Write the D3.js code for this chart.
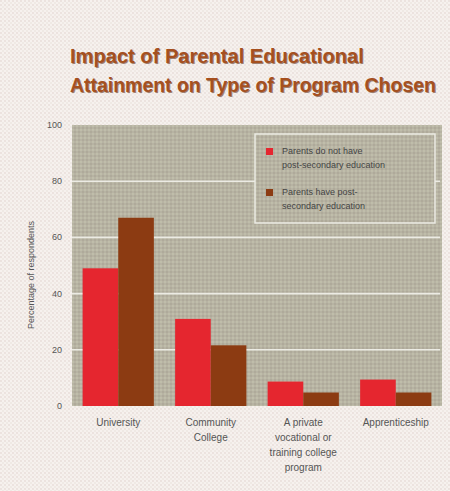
<!DOCTYPE html>
<html>
<head>
<meta charset="utf-8">
<script src="https://cdn.jsdelivr.net/npm/d3@7"></script>
<style>
  body { margin: 0; background: #f3ece8; }
  text { font-family: "Liberation Sans", Arial, sans-serif; }
</style>
</head>
<body>
<div id="chart"></div>
<script>
// ---- data ----
var categories = ['University', 'Community College', 'A private vocational or training college program', 'Apprenticeship'];
var catLines = [['University'], ['Community', 'College'], ['A private', 'vocational or', 'training college', 'program'], ['Apprenticeship']];
var noPostSec = [49, 31, 8.7, 9.4];
var havePostSec = [67, 21.6, 4.8, 4.8];
var seriesNames = ['Parents do not have post-secondary education', 'Parents have post-secondary education'];
var legendLines = [['Parents do not have', 'post-secondary education'], ['Parents have post-', 'secondary education']];
var yTicks = [0, 20, 40, 60, 80, 100];

var colors = ['#e5262f', '#8c3b12'];

var W = 450, H = 491;
var margin = {top: 125, right: 8, bottom: 85, left: 72};
var width = W - margin.left - margin.right,
    height = H - margin.top - margin.bottom;

var svg = d3.select('#chart').append('svg')
    .attr('width', W)
    .attr('height', H);

// dotted textures
var defs = svg.append('defs');
var pg = defs.append('pattern').attr('id', 'pageTex')
    .attr('width', 4).attr('height', 4).attr('patternUnits', 'userSpaceOnUse');
pg.append('rect').attr('width', 4).attr('height', 4).attr('fill', '#f6f1ee');
pg.append('circle').attr('cx', 1).attr('cy', 1).attr('r', 0.9).attr('fill', '#e8dcd8');
pg.append('circle').attr('cx', 3).attr('cy', 3).attr('r', 0.9).attr('fill', '#ece6e0');

var pp = defs.append('pattern').attr('id', 'plotTex')
    .attr('width', 4).attr('height', 4).attr('patternUnits', 'userSpaceOnUse');
pp.append('rect').attr('width', 4).attr('height', 4).attr('fill', '#b7b3a3');
pp.append('circle').attr('cx', 1).attr('cy', 1).attr('r', 0.9).attr('fill', '#c4c3ae');
pp.append('circle').attr('cx', 3).attr('cy', 3).attr('r', 0.9).attr('fill', '#aba696');

svg.append('rect').attr('width', W).attr('height', H).attr('fill', 'url(#pageTex)');

// title: squeeze each line horizontally to the reference width
var title = svg.append('g').attr('font-weight', 'bold').attr('font-size', 21);
[['Impact of Parental Educational', 63, 294], ['Attainment on Type of Program Chosen', 92, 366]].forEach(function (t) {
    var line = title.append('g');
    line.append('text').attr('x', 1).attr('y', 1)
        .attr('fill', '#5a2a10').attr('opacity', 0.55).text(t[0]);
    var main = line.append('text').attr('x', 0).attr('y', 0)
        .attr('fill', '#a5501f').text(t[0]);
    var natural = main.node().getComputedTextLength();
    var sx = Math.min(1, t[2] / natural);
    line.attr('transform', 'translate(70,' + t[1] + ') scale(' + sx + ',1)');
});

var g = svg.append('g').attr('transform', 'translate(' + margin.left + ',' + margin.top + ')');

var x0 = d3.scaleBand().domain(categories).range([0, width])
    .paddingInner(0.23).paddingOuter(0.115);
var x1 = d3.scaleBand().domain([0, 1]).range([0, x0.bandwidth()]);
var y = d3.scaleLinear().domain([0, 100]).range([height, 0]);

g.append('rect').attr('width', width).attr('height', height).attr('fill', 'url(#plotTex)');

// gridlines
g.selectAll('.grid').data(yTicks.filter(function (d) { return d > 0 && d < 100; }))
    .enter().append('line')
    .attr('x1', 0).attr('x2', width - 2)
    .attr('y1', function (d) { return y(d); }).attr('y2', function (d) { return y(d); })
    .attr('stroke', '#ecebe4').attr('stroke-width', 1.6);

// y tick labels
g.selectAll('.ytick').data(yTicks).enter().append('text')
    .attr('x', -10).attr('y', function (d) { return y(d) + 3; })
    .attr('text-anchor', 'end').attr('font-size', 9).attr('fill', '#555')
    .text(function (d) { return d; });

svg.append('text')
    .attr('transform', 'translate(34,' + (margin.top + 150) + ') rotate(-90)')
    .attr('text-anchor', 'middle').attr('font-size', 9).attr('fill', '#555')
    .text('Percentage of respondents');

// bars
var groups = g.selectAll('.grp').data(categories).enter().append('g')
    .attr('transform', function (d) { return 'translate(' + x0(d) + ',0)'; });
groups.selectAll('rect').data(function (d, i) { return [noPostSec[i], havePostSec[i]]; })
    .enter().append('rect')
    .attr('x', function (d, j) { return x1(j); })
    .attr('width', x1.bandwidth())
    .attr('y', function (d) { return y(d); })
    .attr('height', function (d) { return height - y(d); })
    .attr('fill', function (d, j) { return colors[j]; });

// x labels
categories.forEach(function (c, i) {
    var t = g.append('text').attr('text-anchor', 'middle').attr('font-size', 10).attr('fill', '#555')
        .attr('x', x0(c) + x0.bandwidth() / 2).attr('y', height + 20);
    catLines[i].forEach(function (l, k) {
        t.append('tspan').attr('x', x0(c) + x0.bandwidth() / 2).attr('dy', k ? 15 : 0).text(l);
    });
});

// legend
var leg = svg.append('g').attr('transform', 'translate(255,134)');
leg.append('rect').attr('width', 180).attr('height', 89)
    .attr('fill', 'url(#plotTex)').attr('stroke', '#ecebe4').attr('stroke-width', 1.5);
seriesNames.forEach(function (s, i) {
    var yy = 14 + i * 41;
    leg.append('rect').attr('x', 11).attr('y', yy).attr('width', 7).attr('height', 7).attr('fill', colors[i]);
    var t = leg.append('text').attr('font-size', 9).attr('fill', '#444').attr('x', 27).attr('y', yy + 6);
    legendLines[i].forEach(function (l, k) {
        t.append('tspan').attr('x', 27).attr('dy', k ? 14 : 0).text(l);
    });
});
</script>
</body>
</html>
